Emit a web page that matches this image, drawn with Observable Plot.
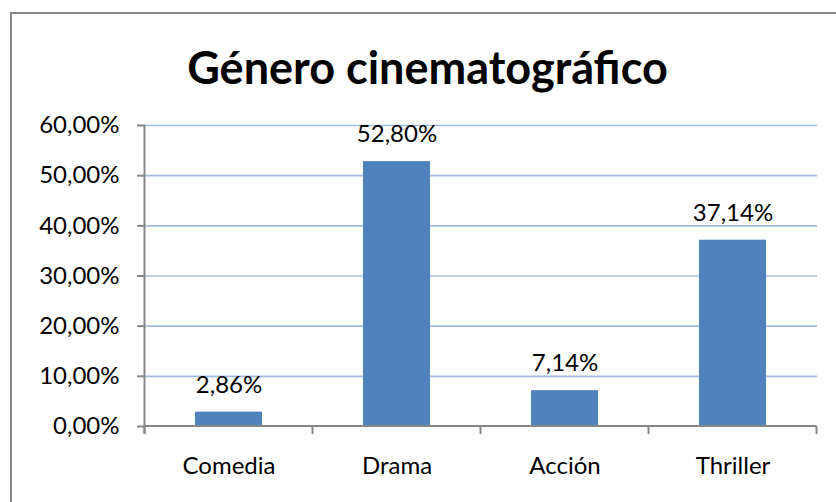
<!DOCTYPE html>
<html><head><meta charset="utf-8">
<script src="https://cdn.jsdelivr.net/npm/d3@7"></script>
<script src="https://cdn.jsdelivr.net/npm/@observablehq/plot@0.6"></script>
<style>
body{margin:0;background:#fff}
#wrap{position:relative;width:836px;height:502px;overflow:hidden;font-family:Lato,sans-serif;background:#fff}
#wrap svg{position:absolute;left:0;top:0}
#frame{position:absolute;left:10px;top:12px;width:1000px;height:1000px;border-top:2px solid #878787;border-left:2px solid #878787}
#title{position:absolute;top:41px;left:0;width:855px;text-align:center;font:bold 45px Lato,sans-serif;color:#000;line-height:52px}
</style></head><body><div id="wrap"></div>
<script>
const title = "Género cinematográfico";
const categories = ["Comedia", "Drama", "Acción", "Thriller"];
const values = [2.86, 52.80, 7.14, 37.14];
const yTicks = [0, 10, 20, 30, 40, 50, 60];

const data = categories.map((c, i) => ({cat: c, v: values[i]}));
const fmt = d => d.toFixed(2).replace(".", ",") + "%";
const axisColor = "#868686";

function axisLines(index, scales, values, dims) {
  const x = scales.x, y = scales.y;
  const step = x(categories[1]) - x(categories[0]);
  const bw = typeof x.bandwidth === "function" ? x.bandwidth() : (x.bandwidth ?? step * 0.4);
  const bounds = categories.map(c => x(c) + bw / 2 - step / 2);
  bounds.push(bounds[bounds.length - 1] + step);
  const y0 = y(0), yTop = y(d3.max(yTicks));
  const g = d3.create("svg:g").attr("stroke", axisColor).attr("stroke-width", 2).attr("fill", "none");
  g.append("line").attr("x1", bounds[0]).attr("x2", bounds[0]).attr("y1", yTop).attr("y2", y0 + 8);
  g.append("line").attr("x1", bounds[0]).attr("x2", bounds[bounds.length - 1]).attr("y1", y0).attr("y2", y0);
  for (const b of bounds) g.append("line").attr("x1", b).attr("x2", b).attr("y1", y0).attr("y2", y0 + 8);
  return g.node();
}

const chart = Plot.plot({
  width: 836,
  height: 502,
  marginLeft: 145,
  marginRight: 19,
  marginTop: 125,
  marginBottom: 76,
  style: {background: "transparent", fontFamily: "Lato, sans-serif", overflow: "visible"},
  x: {domain: categories, paddingInner: 0.6, paddingOuter: 0.3, label: null},
  y: {domain: [0, 60], label: null},
  marks: [
    Plot.ruleY(yTicks.slice(1), {stroke: "#a3bce2", strokeWidth: 1.6}),
    Plot.barY(data, {x: "cat", y: "v", fill: "#4f81bd"}),
    Plot.text(data, {x: "cat", y: "v", text: d => fmt(d.v), dy: -27, lineAnchor: "middle", fontSize: 24, fill: "#000"}),
    Plot.axisY({ticks: yTicks, tickFormat: fmt, tickSize: 8, tickPadding: 18, fontSize: 24, stroke: axisColor, strokeWidth: 2, fill: "#000", label: null}),
    Plot.axisX({tickSize: 0, tickPadding: 30, fontSize: 24, fill: "#000", label: null}),
    axisLines
  ]
});

const wrap = document.getElementById("wrap");
wrap.appendChild(chart);
const frame = document.createElement("div");
frame.id = "frame";
wrap.appendChild(frame);
const t = document.createElement("div");
t.id = "title";
t.textContent = title;
wrap.appendChild(t);
</script>
</body></html>
